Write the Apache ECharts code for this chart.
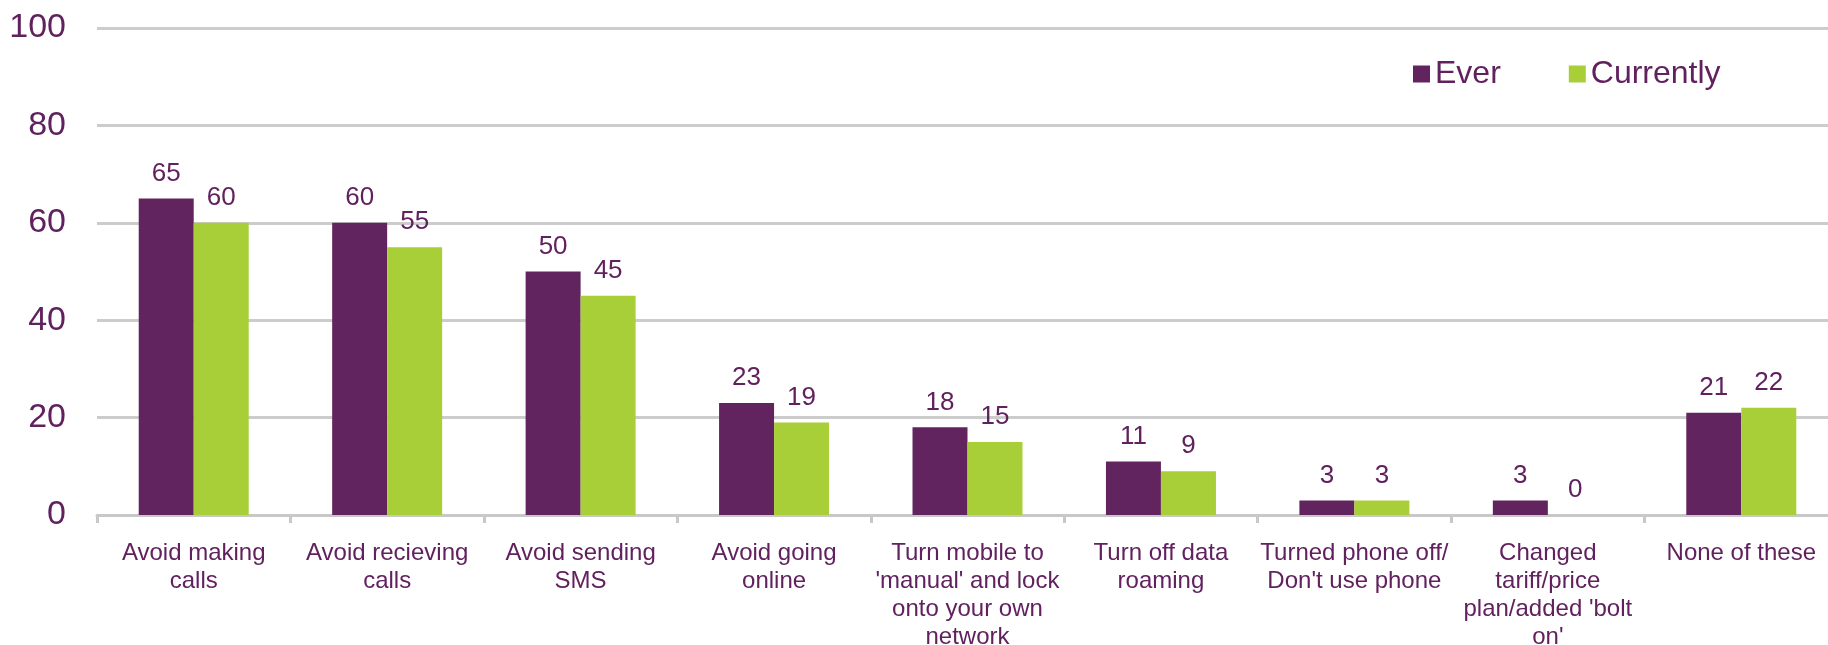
<!DOCTYPE html>
<html>
<head>
<meta charset="utf-8">
<script src="https://cdn.jsdelivr.net/npm/echarts@6/dist/echarts.min.js"></script>
<style>
html,body{margin:0;padding:0;background:#fff;}
#chart{width:1828px;height:645px;}
</style>
</head>
<body>
<div id="chart"></div>
<script>
var categories = [
  "Avoid making\ncalls",
  "Avoid recieving\ncalls",
  "Avoid sending\nSMS",
  "Avoid going\nonline",
  "Turn mobile to\n'manual' and lock\nonto your own\nnetwork",
  "Turn off data\nroaming",
  "Turned phone off/\nDon't use phone",
  "Changed\ntariff/price\nplan/added 'bolt\non'",
  "None of these"
];
var everValues = [65, 60, 50, 23, 18, 11, 3, 3, 21];
var currentlyValues = [60, 55, 45, 19, 15, 9, 3, 0, 22];
var yTicks = {min: 0, max: 100, interval: 20};

var purple = '#62245F';
var green = '#A9CF38';
var textColor = '#61215F';
var fontFamily = 'Arial, "Liberation Sans", sans-serif';

var chart = echarts.init(document.getElementById('chart'));
chart.setOption({
  animation: false,
  textStyle: {fontFamily: fontFamily},
  legend: {
    data: ['Ever', 'Currently'],
    top: 53,
    left: 1408,
    itemWidth: 17,
    itemHeight: 17,
    itemGap: 68,
    icon: 'rect',
    textStyle: {color: textColor, fontSize: 32, fontFamily: fontFamily}
  },
  grid: {left: 97, right: -10, top: 28, bottom: 130, containLabel: false, outerBoundsMode: 'none'},
  xAxis: {
    type: 'category',
    data: categories,
    axisLine: {lineStyle: {color: '#C8C8C8', width: 3}},
    axisTick: {show: true, alignWithLabel: false, length: 8, lineStyle: {color: '#C8C8C8', width: 3}},
    axisLabel: {
      interval: 0,
      color: textColor,
      fontSize: 24,
      lineHeight: 28,
      margin: 24,
      fontFamily: fontFamily
    }
  },
  yAxis: {
    type: 'value',
    min: yTicks.min,
    max: yTicks.max,
    interval: yTicks.interval,
    axisLine: {show: false},
    axisTick: {show: false},
    splitLine: {lineStyle: {color: '#CCCCCC', width: 3}},
    axisLabel: {color: textColor, fontSize: 34, margin: 31, fontFamily: fontFamily}
  },
  series: [
    {
      name: 'Ever',
      type: 'bar',
      data: everValues,
      barWidth: 55,
      barGap: '0%',
      itemStyle: {color: purple},
      label: {show: true, position: 'top', distance: 12, color: textColor, fontSize: 26, fontFamily: fontFamily}
    },
    {
      name: 'Currently',
      type: 'bar',
      data: currentlyValues,
      barWidth: 55,
      barGap: '0%',
      itemStyle: {color: green},
      label: {show: true, position: 'top', distance: 12, color: textColor, fontSize: 26, fontFamily: fontFamily}
    }
  ]
});
</script>
</body>
</html>
